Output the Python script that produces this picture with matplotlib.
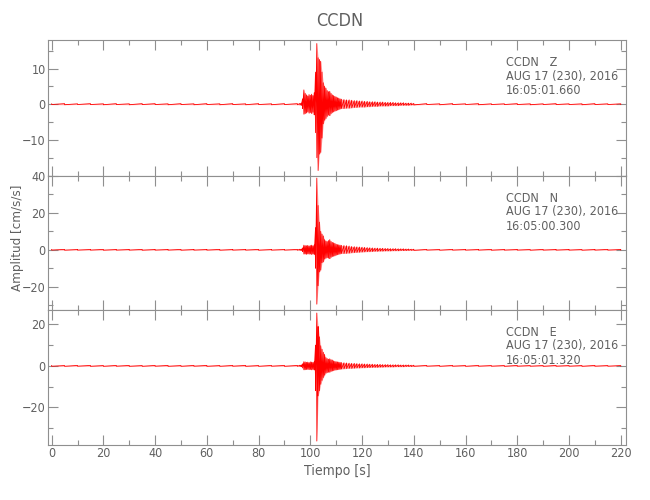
import numpy as np
import matplotlib
matplotlib.use("Agg")
import matplotlib.pyplot as plt
from matplotlib import font_manager
from matplotlib.ticker import MultipleLocator

# narrow face if one is installed, otherwise Roboto
_fonts = {(f.name, f.stretch) for f in font_manager.fontManager.ttflist}
STRETCH = "normal"
if any(n == "Liberation Sans Narrow" for n, _ in _fonts):
    FAMILY = ["Liberation Sans Narrow", "DejaVu Sans"]
elif ("DejaVu Sans", "condensed") in _fonts:
    FAMILY, STRETCH = ["DejaVu Sans"], "condensed"
else:
    FAMILY = ["Roboto", "DejaVu Sans"]
plt.rcParams['font.family'] = FAMILY
plt.rcParams['font.stretch'] = STRETCH

STATION = "CCDN"
COMPONENTS = ["Z", "N", "E"]
DATE = "AUG 17 (230), 2016"
START_TIMES = ["16:05:01.660", "16:05:00.300", "16:05:01.320"]

# sample times (s): pre-event, burst, coda, post
t_pre = np.arange(0, 96, 5)
t_burst = np.arange(96.0, 112.5, 0.5)
t_coda = np.arange(113, 141, 1)
t_post = np.arange(145, 221, 5)
t_samples = np.concatenate([t_pre, t_burst, t_coda, t_post])

# envelope peaks (cm/s/s), per sample time
z_hi = ([0.1, 0.15, 0.1, 0.15, 0.1, 0.15, 0.1, 0.15, 0.15, 0.1, 0.15, 0.1, 0.15, 0.1, 0.15, 0.1, 0.15, 0.1, 0.15, 0.15]
        + [0.2, 0.3, 1.5, 4.0, 3.0, 2.6, 2.3, 2.7, 2.5, 2.8, 2.4, 3.2, 9.0, 17.0, 13.0, 12.5, 12.0,
           9.0, 6.0, 5.0, 4.5, 3.8, 3.5, 3.6, 3.0, 2.6, 2.4, 2.2, 2.0, 1.8, 1.7, 1.5, 1.4]
        + [1.3, 1.2, 1.2, 1.1, 1.0, 1.0, 0.9, 0.9, 0.8, 0.8, 0.7, 0.7, 0.7, 0.6, 0.6, 0.6, 0.5, 0.5,
           0.5, 0.5, 0.4, 0.4, 0.4, 0.4, 0.3, 0.3, 0.3, 0.2]
        + [0.15, 0.1, 0.15, 0.1, 0.15, 0.1, 0.1, 0.15, 0.1, 0.1, 0.15, 0.1, 0.1, 0.15, 0.1, 0.1])
z_lo = ([-0.1, -0.15, -0.1, -0.1, -0.15, -0.1, -0.15, -0.1, -0.1, -0.15, -0.1, -0.15, -0.1, -0.15, -0.1, -0.15, -0.1, -0.15, -0.1, -0.15]
        + [-0.2, -0.3, -1.2, -2.8, -2.6, -2.4, -2.1, -2.5, -2.3, -2.6, -2.2, -3.0, -8.0, -15.0, -18.6, -14.0, -13.5,
           -9.5, -5.5, -4.5, -4.0, -3.4, -3.0, -3.2, -2.6, -2.3, -2.1, -1.9, -1.8, -1.6, -1.5, -1.3, -1.2]
        + [-1.2, -1.1, -1.1, -1.0, -0.9, -0.9, -0.8, -0.8, -0.8, -0.7, -0.7, -0.6, -0.6, -0.6, -0.5, -0.5, -0.5, -0.5,
           -0.4, -0.4, -0.4, -0.4, -0.3, -0.3, -0.3, -0.3, -0.2, -0.2]
        + [-0.1, -0.15, -0.1, -0.1, -0.15, -0.1, -0.1, -0.1, -0.15, -0.1, -0.1, -0.1, -0.15, -0.1, -0.1, -0.1])

n_hi = ([0.15, 0.2, 0.15, 0.15, 0.2, 0.15, 0.15, 0.2, 0.15, 0.15, 0.2, 0.15, 0.15, 0.2, 0.15, 0.15, 0.2, 0.15, 0.15, 0.2]
        + [0.3, 0.3, 1.0, 2.5, 2.3, 2.2, 2.4, 2.1, 2.3, 2.5, 2.2, 2.6, 12.0, 38.9, 24.0, 15.0, 10.0,
           8.5, 7.5, 5.5, 4.8, 4.5, 5.0, 5.5, 4.5, 4.0, 3.8, 3.5, 3.0, 2.8, 2.7, 2.5, 2.4]
        + [2.3, 2.2, 2.0, 1.8, 1.7, 1.6, 1.5, 1.4, 1.3, 1.2, 1.1, 1.0, 0.9, 0.9, 0.8, 0.8, 0.7, 0.7,
           0.6, 0.6, 0.6, 0.5, 0.5, 0.5, 0.4, 0.4, 0.3, 0.3]
        + [0.2, 0.15, 0.2, 0.15, 0.15, 0.2, 0.15, 0.15, 0.15, 0.2, 0.15, 0.15, 0.15, 0.15, 0.2, 0.15])
n_lo = ([-0.15, -0.2, -0.15, -0.15, -0.2, -0.15, -0.15, -0.2, -0.15, -0.15, -0.2, -0.15, -0.15, -0.2, -0.15, -0.15, -0.2, -0.15, -0.15, -0.2]
        + [-0.3, -0.3, -1.0, -2.3, -2.2, -2.4, -2.1, -2.3, -2.2, -2.5, -2.1, -2.5, -10.0, -29.5, -19.5, -12.0, -11.0,
           -7.0, -6.5, -5.0, -4.5, -4.2, -4.5, -4.8, -4.0, -3.6, -3.4, -3.2, -2.8, -2.6, -2.4, -2.2, -2.0]
        + [-2.0, -1.9, -1.8, -1.6, -1.5, -1.4, -1.3, -1.2, -1.1, -1.0, -1.0, -0.9, -0.8, -0.8, -0.7, -0.7, -0.6, -0.6,
           -0.6, -0.5, -0.5, -0.5, -0.4, -0.4, -0.4, -0.3, -0.3, -0.3]
        + [-0.15, -0.2, -0.15, -0.15, -0.15, -0.2, -0.15, -0.15, -0.2, -0.15, -0.15, -0.15, -0.2, -0.15, -0.15, -0.15])

e_hi = ([0.2, 0.15, 0.2, 0.2, 0.15, 0.2, 0.2, 0.15, 0.2, 0.2, 0.15, 0.2, 0.2, 0.15, 0.2, 0.2, 0.15, 0.2, 0.2, 0.2]
        + [0.3, 0.4, 1.0, 2.0, 1.9, 1.7, 1.8, 1.6, 1.9, 1.8, 1.7, 2.0, 10.0, 25.5, 19.0, 14.0, 9.7,
           8.0, 6.5, 5.5, 4.0, 3.5, 3.2, 3.4, 3.0, 2.8, 2.4, 2.2, 2.0, 1.9, 1.8, 1.7, 1.6]
        + [1.5, 1.4, 1.3, 1.2, 1.2, 1.1, 1.0, 1.0, 0.9, 0.9, 0.8, 0.8, 0.7, 0.7, 0.7, 0.6, 0.6, 0.6,
           0.5, 0.5, 0.5, 0.5, 0.4, 0.4, 0.4, 0.4, 0.3, 0.3]
        + [0.2, 0.15, 0.2, 0.15, 0.2, 0.15, 0.15, 0.2, 0.15, 0.15, 0.2, 0.15, 0.15, 0.2, 0.15, 0.15])
e_lo = ([-0.2, -0.2, -0.15, -0.2, -0.2, -0.15, -0.2, -0.2, -0.15, -0.2, -0.2, -0.15, -0.2, -0.2, -0.15, -0.2, -0.2, -0.15, -0.2, -0.2]
        + [-0.3, -0.4, -1.0, -1.9, -1.8, -1.7, -1.6, -1.8, -1.7, -1.9, -1.6, -2.0, -12.0, -36.3, -14.5, -12.0, -8.9,
           -7.0, -5.6, -4.5, -3.5, -3.2, -3.0, -3.0, -2.6, -2.4, -2.2, -2.0, -1.9, -1.8, -1.7, -1.6, -1.5]
        + [-1.4, -1.3, -1.2, -1.2, -1.1, -1.0, -1.0, -0.9, -0.9, -0.8, -0.8, -0.7, -0.7, -0.7, -0.6, -0.6, -0.5, -0.5,
           -0.5, -0.5, -0.4, -0.4, -0.4, -0.4, -0.3, -0.3, -0.3, -0.2]
        + [-0.15, -0.2, -0.15, -0.2, -0.15, -0.15, -0.2, -0.15, -0.15, -0.2, -0.15, -0.15, -0.2, -0.15, -0.15, -0.15])

HI = [z_hi, n_hi, e_hi]
LO = [z_lo, n_lo, e_lo]
YLIMS = [(-20, 18), (-32.4, 40.3), (-38.2, 27.2)]
Y_MAJOR = [10, 20, 20]
Y_MINOR = [5, 10, 10]

TXT = "#606060"
AX = "#8f8f8f"

fig = plt.figure(figsize=(6.5, 5.0), dpi=100)
left, width = 0.0735, 0.8895
bounds = [(0.649, 0.92), (0.381, 0.649), (0.11, 0.381)]

axes = []
for k in range(3):
    b0, b1 = bounds[k]
    ax = fig.add_axes([left, b0, width, b1 - b0])
    axes.append(ax)
    # trace: shaded envelope + zig-zag between the peaks
    ax.fill_between(t_samples, LO[k], HI[k], color="#ff0000", alpha=0.35, lw=0)
    x = np.repeat(t_samples, 2)
    y = np.column_stack([HI[k], LO[k]]).ravel()
    ax.plot(x, y, color="#ff0000", lw=0.6)
    ax.set_xlim(-1.5, 222)
    ax.set_ylim(*YLIMS[k])
    ax.xaxis.set_major_locator(MultipleLocator(20))
    ax.xaxis.set_minor_locator(MultipleLocator(10))
    ax.yaxis.set_major_locator(MultipleLocator(Y_MAJOR[k]))
    ax.yaxis.set_minor_locator(MultipleLocator(Y_MINOR[k]))
    ax.tick_params(which="both", direction="in", top=True, right=True,
                   color=AX, labelcolor=TXT, labelsize=9, pad=1.5)
    ax.tick_params(which="major", length=7.5, width=0.8)
    ax.tick_params(which="minor", length=3.8, width=0.8)
    for s in ax.spines.values():
        s.set_color(AX)
        s.set_linewidth(0.8)
    if k < 2:
        ax.tick_params(labelbottom=False)
    ax.annotate(f"{STATION}   {COMPONENTS[k]}\n{DATE}\n{START_TIMES[k]}",
                xy=(0.792, 1.0), xycoords="axes fraction",
                xytext=(0, -16), textcoords="offset pixels",
                va="top", ha="left", fontsize=9, color=TXT, linespacing=1.1)

# hide the top panel's bottom label (overlaps the middle panel's 40)
axes[0].set_yticks([10, 0, -10])

axes[2].set_xlabel("Tiempo [s]", color=TXT, fontsize=10, labelpad=3)
fig.text(0.027, 0.525, "Amplitud [cm/s/s]", rotation=90, ha="center",
         va="center", color=TXT, fontsize=9.5)
fig.text(0.523, 0.958, STATION, ha="center", va="center", color=TXT, fontsize=13)

fig.savefig("out.png", dpi=100)
